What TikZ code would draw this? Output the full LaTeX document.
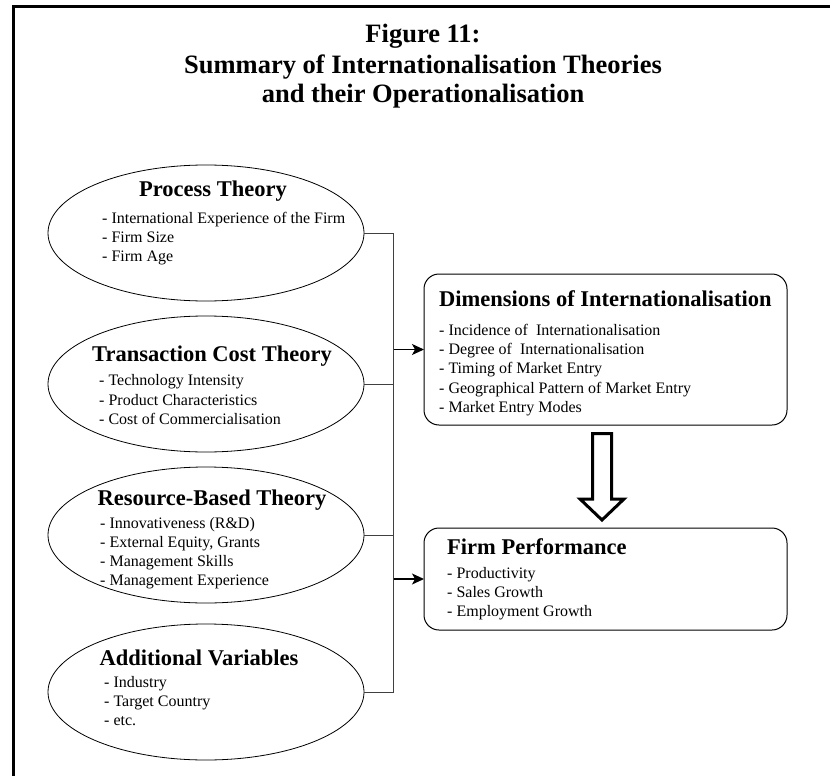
\documentclass[tikz,border=0pt]{standalone}
\usepackage{fontspec}
\setmainfont{Liberation Serif}
\usetikzlibrary{shapes.geometric,arrows.meta,calc}
\begin{document}
\begin{tikzpicture}[x=1pt,y=-1pt,
  ell/.style={draw, ellipse, line width=0.8pt, minimum width=316pt, minimum height=136pt, inner sep=0pt, outer sep=0pt},
  rbox/.style={draw, rounded corners=15pt, line width=1pt, minimum width=363pt, inner sep=0pt, outer sep=0pt},
  head/.style={font=\fontsize{22.5}{27}\selectfont\bfseries, inner sep=0pt},
  item/.style={font=\fontsize{16}{19}\selectfont, anchor=base west, inner sep=0pt},
  ttl/.style={font=\fontsize{26.5}{30}\selectfont\bfseries, anchor=base, inner sep=0pt},
  conn/.style={line width=0.8pt, draw=black!75},
  arr/.style={line width=1.3pt, -{Stealth[length=12pt,width=11pt,inset=3pt]}},
  blockarr/.style={line width=3pt, line join=miter, fill=white},
]
\useasboundingbox (0,0) rectangle (830,776);
% frame
\draw[line width=3pt] (13,776) -- (13,6.5) -- (830,6.5);
% title
\node[ttl] (t1) at (423,43) {Figure 11:};
\node[ttl] (t2) at (423,74) {Summary of Internationalisation Theories};
\node[ttl] (t3) at (423,102.5) {and their Operationalisation};
% ellipses
\node[ell] (pt) at (206,233) {};
\node[ell] (tc) at (206,384) {};
\node[ell] (rb) at (206,535) {};
\node[ell] (av) at (206,692) {};
% headings in ellipses
\node[head, anchor=base] (pth) at (213,196.5) {Process Theory};
\node[head, anchor=base] (tch) at (212,361.5) {Transaction Cost Theory};
\node[head, anchor=base] (rbh) at (212,505.5) {Resource-Based Theory};
\node[head, anchor=base] (avh) at (199,665.5) {Additional Variables};
% items
\foreach \t [count=\i] in {{- International Experience of the Firm},{- Firm Size},{- Firm Age}}
  \node[item] (pti\i) at (102,{223.5+19*(\i-1)}) {\t};
\foreach \t [count=\i] in {{- Technology Intensity},{- Product Characteristics},{- Cost of Commercialisation}}
  \node[item] (tci\i) at (99,{385.5+19.5*(\i-1)}) {\t};
\foreach \t [count=\i] in {{- Innovativeness (R\&D)},{- External Equity, Grants},{- Management Skills},{- Management Experience}}
  \node[item] (rbi\i) at (100,{528.5+19*(\i-1)}) {\t};
\foreach \t [count=\i] in {{- Industry},{- Target Country},{- etc.}}
  \node[item] (avi\i) at (104,{687.5+19*(\i-1)}) {\t};
% right boxes
\node[rbox, minimum height=151pt] (dim) at (605.5,349.5) {};
\node[rbox, minimum height=102pt] (fp) at (605.5,579) {};
\node[head, anchor=base west] (dimh) at (439,306.5) {Dimensions of Internationalisation};
\node[head, anchor=base west] (fph) at (447,554.5) {Firm Performance};
\foreach \t [count=\i] in {{- Incidence of~~Internationalisation},{- Degree of~~Internationalisation},{- Timing of Market Entry},{- Geographical Pattern of Market Entry},{- Market Entry Modes}}
  \node[item] (dimi\i) at (439,{335.5+19.2*(\i-1)}) {\t};
\foreach \t [count=\i] in {{- Productivity},{- Sales Growth},{- Employment Growth}}
  \node[item] (fpi\i) at (447,{578.5+19*(\i-1)}) {\t};
% bus connectors
\coordinate (b1) at (393.5,233);
\coordinate (b4) at (393.5,692);
\draw[conn] (pt.east) -- (b1) -- (b4) -- (av.east);
\draw[conn] (tc.east) -- (tc.east -| b1);
\draw[conn] (rb.east) -- (rb.east -| b1);
\draw[arr] (dim.west -| b1) -- (dim.west);
\draw[arr] (fp.west -| b1) -- (fp.west);
% block arrow
\draw[blockarr] ($(dim.south)+(-13,8.5)$) -- ($(dim.south)+(6,8.5)$) -- ($(dim.south)+(6,74)$)
  -- ($(dim.south)+(18.5,74)$) -- ($(fp.north)+(-3.5,-8)$) -- ($(dim.south)+(-25.5,74)$)
  -- ($(dim.south)+(-13,74)$) -- cycle;
\end{tikzpicture}
\end{document}
